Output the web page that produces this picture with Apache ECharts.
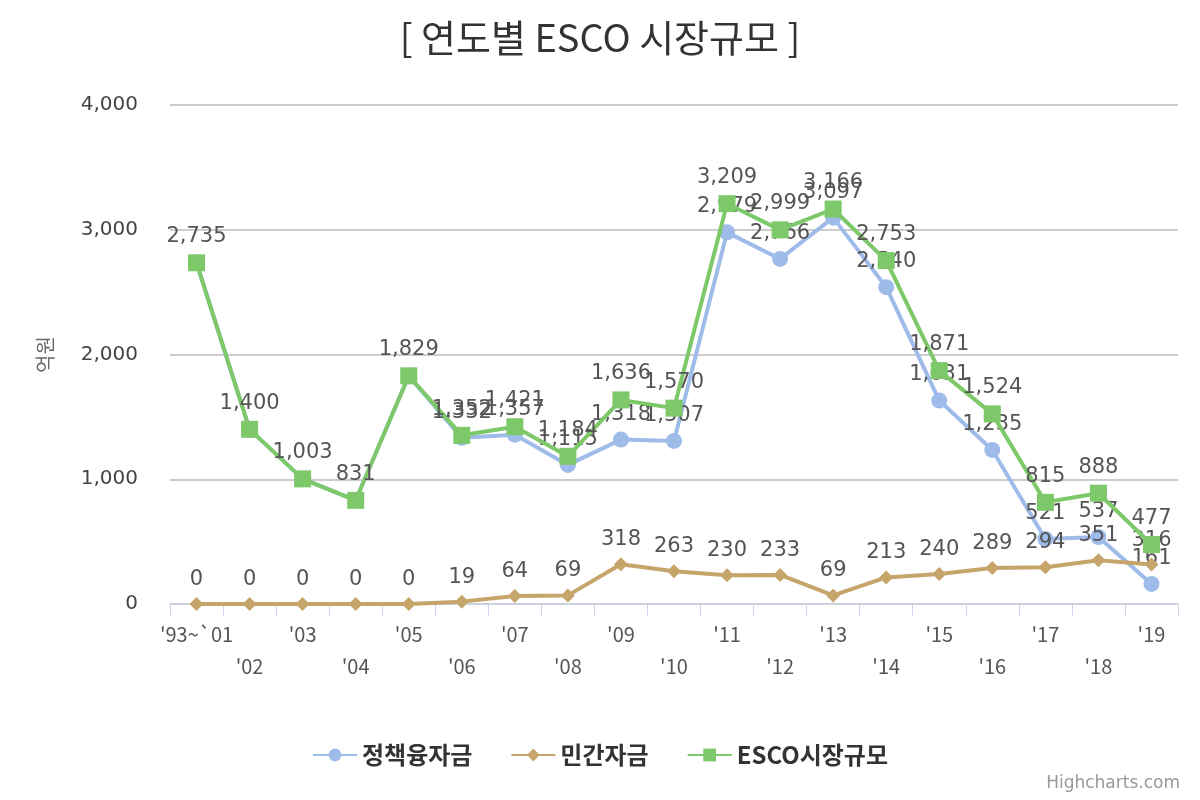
<!DOCTYPE html>
<html><head><meta charset="utf-8">
<script src="https://cdn.jsdelivr.net/npm/echarts@6/dist/echarts.min.js"></script>
<style>html,body{margin:0;padding:0;background:#fff}#c{width:1200px;height:800px}</style>
</head><body><div id="c"></div>
<script>
const categories = ["'93~`01","'02","'03","'04","'05","'06","'07","'08","'09","'10","'11","'12","'13","'14","'15","'16","'17","'18","'19"];
const policyLoan = [2735,1400,1003,831,1829,1332,1357,1115,1318,1307,2979,2766,3097,2540,1631,1235,521,537,161];
const privateFund = [0,0,0,0,0,19,64,69,318,263,230,233,69,213,240,289,294,351,316];
const escoMarket = [2735,1400,1003,831,1829,1352,1421,1184,1636,1570,3209,2999,3166,2753,1871,1524,815,888,477];
const yTicks = [0,1000,2000,3000,4000];

const numFont = '"DejaVu Sans", "Noto Sans CJK KR", sans-serif';
const krFont = '"Noto Sans CJK KR", sans-serif';
const fmt = v => v.toLocaleString('en-US');
const label = {show:true, position:'top', distance:7, color:'#555', fontSize:21, fontFamily:numFont, formatter:p=>fmt(p.value)};
// Overlapping labels (where the policy loan equals the market total) are hidden, as Highcharts does
const blueLabel = Object.assign({}, label, {formatter:p => policyLoan[p.dataIndex]===escoMarket[p.dataIndex] ? '' : fmt(p.value)});

const chart = echarts.init(document.getElementById('c'), null, {renderer:'canvas'});
chart.setOption({
  animation:false,
  title:{text:'[ 연도별 ESCO 시장규모 ]', left:'center', top:14, textStyle:{fontFamily:krFont, fontSize:38, fontWeight:'normal', color:'#333'}},
  grid:{left:170, right:22, top:105, bottom:196, containLabel:false},
  legend:{bottom:28, left:'center', itemGap:38, itemWidth:44, itemHeight:16,
    textStyle:{fontFamily:krFont, fontSize:24, fontWeight:'bold', color:'#333'},
    data:['정책융자금','민간자금','ESCO시장규모']},
  graphic:[{type:'text', right:20, bottom:8, style:{text:'Highcharts.com', fill:'#999', fontSize:17, fontFamily:numFont}}],
  xAxis:{type:'category', data:categories, boundaryGap:true,
    axisLine:{lineStyle:{color:'#ccd6eb', width:1}},
    axisTick:{show:true, length:12, lineStyle:{color:'#ccd6eb'}},
    axisLabel:{interval:0, color:'#555', fontSize:20, fontFamily:krFont, margin:14, lineHeight:32,
      formatter:(v,i)=> i%2===1 ? '\n'+v : v}},
  yAxis:{type:'value', min:0, max:4000, interval:1000,
    name:'억원', nameLocation:'middle', nameGap:115, nameRotate:90,
    nameTextStyle:{color:'#666', fontSize:20, fontFamily:krFont},
    axisLine:{show:false}, axisTick:{show:false},
    splitLine:{lineStyle:{color:'#bbbbbb', width:1.5}},
    axisLabel:{color:'#444', fontSize:20, fontFamily:numFont, margin:32, formatter:v=>yTicks.includes(v)?fmt(v):''}},
  series:[
    {name:'정책융자금', type:'line', data:policyLoan, symbol:'circle', symbolSize:16,
      itemStyle:{color:'#9ebbe9'}, lineStyle:{width:4, color:'#9ebbe9'}, label:blueLabel, z:2},
    {name:'민간자금', type:'line', data:privateFund, symbol:'diamond', symbolSize:14,
      itemStyle:{color:'#c6a56b'}, lineStyle:{width:4, color:'#c6a56b'}, label, z:3},
    {name:'ESCO시장규모', type:'line', data:escoMarket, symbol:'rect', symbolSize:17,
      itemStyle:{color:'#7dc96a'}, lineStyle:{width:4, color:'#7dc96a'}, label, z:4}
  ]
});
</script></body></html>
